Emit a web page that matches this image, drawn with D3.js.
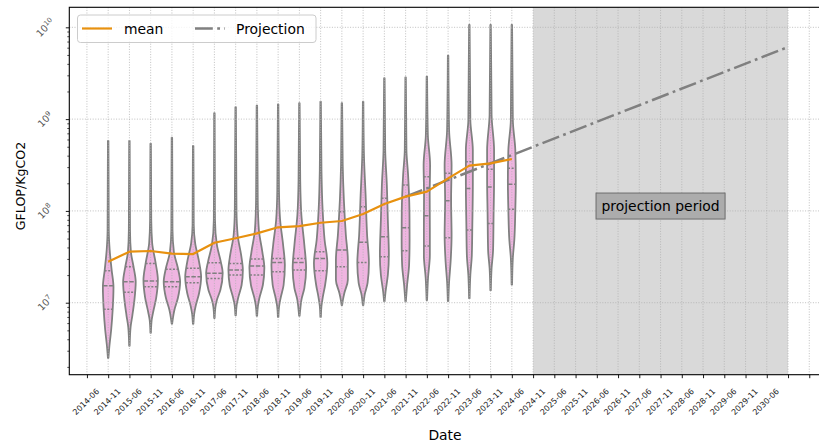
<!DOCTYPE html>
<html><head><meta charset="utf-8">
<script src="https://cdn.jsdelivr.net/npm/d3@7"></script>
<style>body{margin:0;background:#fff}svg{display:block;font-family:"DejaVu Sans",sans-serif}</style>
</head><body><svg id="chart" width="819" height="442"></svg>
<script>
// ---------- DATA ----------
// all x slots on the axis (the last two carry no label)
const periods = ["2014-06","2014-11","2015-06","2015-11","2016-06","2016-11","2017-06","2017-11","2018-06","2018-11",
  "2019-06","2019-11","2020-06","2020-11","2021-06","2021-11","2022-06","2022-11","2023-06","2023-11",
  "2024-06","2024-11","2025-06","2025-11","2026-06","2026-11","2027-06","2027-11","2028-06","2028-11",
  "2029-06","2029-11","2030-06","2030-11","2031-06"];
const tickLabels = periods.slice(0, 33);
const violinPeriods = ["2014-11","2015-06","2015-11","2016-06","2016-11","2017-06","2017-11","2018-06","2018-11","2019-06",
  "2019-11","2020-06","2020-11","2021-06","2021-11","2022-06","2022-11","2023-06","2023-11","2024-06"];
const meanValues = [2.80e7,3.60e7,3.66e7,3.42e7,3.39e7,4.50e7,5.04e7,5.70e7,6.63e7,6.84e7,
  7.43e7,7.76e7,9.25e7,1.19e8,1.43e8,1.62e8,2.26e8,3.11e8,3.30e8,3.68e8];
const violinMin = [2.5e6,3.4e6,4.7e6,5.9e6,5.9e6,6.8e6,7.3e6,7.2e6,7.0e6,7.2e6,
  7.0e6,9.4e6,9.4e6,1.03e7,1.03e7,1.07e7,1.04e7,1.12e7,1.37e7,1.58e7];
const violinMax = [5.8e8,5.8e8,5.4e8,6.3e8,5.1e8,1.16e9,1.35e9,1.40e9,1.45e9,1.49e9,
  1.55e9,1.49e9,1.55e9,2.79e9,2.85e9,2.90e9,4.91e9,1.06e10,1.06e10,1.06e10];
const violinQ1 = [8.5e6,1.30e7,1.49e7,1.49e7,1.65e7,1.84e7,2.0e7,2.0e7,2.18e7,2.27e7,
  2.23e7,2.47e7,2.75e7,3.17e7,3.68e7,4.15e7,5.1e7,6.2e7,7.3e7,1.04e8];
const violinMedian = [1.53e7,1.69e7,1.72e7,1.69e7,1.92e7,2.09e7,2.27e7,2.51e7,2.75e7,2.75e7,
  3.04e7,3.75e7,4.55e7,5.24e7,6.56e7,8.87e7,1.29e8,1.76e8,1.82e8,1.95e8];
const violinQ3 = [2.23e7,2.47e7,2.68e7,2.31e7,2.37e7,2.73e7,2.68e7,2.99e7,3.04e7,3.04e7,
  3.6e7,9.8e7,1.11e8,1.37e8,1.91e8,2.36e8,2.57e8,3.44e8,2.84e8,2.91e8];
// violin body profiles: [log10(GFLOP/KgCO2), relative density]
const violinShapes = [
  [[7.792,.07],[7.574,.18],[7.356,.42],[7.171,.64],[6.921,.54],[6.703,.36],[6.539,.16]],
  [[7.792,.07],[7.552,.18],[7.400,.48],[7.226,.76],[7.029,.60],[6.866,.36],[6.735,.14]],
  [[7.901,.07],[7.650,.18],[7.433,.60],[7.247,.87],[7.051,.66],[6.899,.30],[6.812,.12]],
  [[7.792,.07],[7.552,.24],[7.378,.72],[7.226,.99],[7.051,.72],[6.921,.30],[6.833,.12]],
  [[7.846,.07],[7.650,.24],[7.443,.72],[7.280,.96],[7.106,.72],[6.964,.30],[6.877,.12]],
  [[7.901,.07],[7.629,.30],[7.443,.78],[7.324,1.0],[7.138,.72],[7.029,.30],[6.953,.12]],
  [[8.010,.10],[7.738,.24],[7.520,.66],[7.356,.87],[7.193,.72],[7.051,.30],[6.975,.12]],
  [[8.119,.10],[7.792,.24],[7.552,.66],[7.378,.90],[7.193,.72],[7.051,.30],[6.964,.12]],
  [[8.228,.10],[7.901,.24],[7.629,.60],[7.411,.81],[7.193,.66],[7.051,.30],[6.964,.12]],
  [[8.337,.10],[7.955,.24],[7.629,.60],[7.378,.81],[7.160,.60],[7.029,.24],[6.942,.12]],
  [[8.446,.10],[8.010,.24],[7.683,.48],[7.433,.81],[7.193,.54],[7.051,.24],[6.964,.10]],
  [[8.500,.10],[8.119,.24],[7.738,.48],[7.465,.72],[7.247,.72],[7.106,.30],[7.029,.12]],
  [[8.609,.10],[8.173,.30],[7.738,.48],[7.433,.70],[7.215,.54],[7.084,.18]],
  [[8.663,.10],[8.282,.30],[7.901,.42],[7.520,.54],[7.302,.42],[7.117,.14]],
  [[8.663,.10],[8.391,.30],[8.010,.46],[7.683,.48],[7.411,.42],[7.193,.18]],
  [[8.827,.12],[8.500,.39],[8.173,.34],[7.792,.36],[7.520,.36],[7.269,.14]],
  [[8.881,.12],[8.500,.42],[8.119,.36],[7.738,.42],[7.443,.30],[7.226,.12]],
  [[8.990,.12],[8.663,.42],[8.282,.42],[7.846,.36],[7.520,.30],[7.302,.12]],
  [[9.045,.12],[8.663,.42],[8.337,.42],[7.955,.36],[7.574,.30],[7.378,.12]],
  [[8.990,.12],[8.663,.42],[8.337,.48],[8.010,.42],[7.683,.30],[7.487,.12]]
];
const projectionPeriods = ["2021-11","2030-11"];
const projectionValues = [1.43e8, 6.1e9];
const shadePeriods = ["2024-11","2030-11"];
const annotation = {period:"2027-11", value:1.13e8, text:"projection period"};
const yLimits = [1.644e6, 1.652e10];
const yTickValues = [1e7,1e8,1e9,1e10];
const legendLabels = ["mean","Projection"];
const xTitle = "Date", yTitle = "GFLOP/KgCO2";

// ---------- LAYOUT ----------
const P = {left:69.3, right:826.9, top:7.3, bottom:374.7};
const svg = d3.select("#chart");
const x = d3.scalePoint().domain(periods).range([P.left, P.right]).padding(0.83);
const y = d3.scaleLog().domain(yLimits).range([P.bottom, P.top]);
const step = x.step();
const maxHW = 0.39 * step;
const tipD = 0.03;

svg.append("defs").append("clipPath").attr("id","plot")
  .append("rect").attr("x",P.left).attr("y",P.top).attr("width",P.right-P.left).attr("height",P.bottom-P.top);
const plot = svg.append("g").attr("clip-path","url(#plot)");

// shaded projection period
plot.append("rect")
  .attr("x", x(shadePeriods[0])).attr("width", x(shadePeriods[1]) - x(shadePeriods[0]))
  .attr("y", P.top).attr("height", P.bottom - P.top).attr("fill", "#d9d9d9");

// violins
const violinG = plot.append("g");
const profiles = violinPeriods.map((p, i) =>
  [[Math.log10(violinMax[i]), tipD], ...violinShapes[i], [Math.log10(violinMin[i]), tipD]]);
function densityAt(pts, e) {
  for (let k = 0; k < pts.length - 1; k++) {
    const a = pts[k], b = pts[k+1];
    if (e <= a[0] && e >= b[0]) {
      const t = (a[0] - e) / (a[0] - b[0]);
      return a[1] + t * (b[1] - a[1]);
    }
  }
  return tipD;
}
violinPeriods.forEach((p, i) => {
  const cx = x(p);
  const area = d3.area()
    .y(d => y(Math.pow(10, d[0])))
    .x0(d => cx - d[1] * maxHW)
    .x1(d => cx + d[1] * maxHW)
    .curve(d3.curveMonotoneY);
  violinG.append("path").attr("d", area(profiles[i]))
    .attr("fill", "#efb5e1").attr("stroke", "#808080").attr("stroke-width", 1.8)
    .attr("stroke-linejoin", "round");
});

// grid (drawn above patches, like matplotlib)
const grid = plot.append("g").attr("stroke", "#b0b0b0").attr("stroke-width", 0.8).attr("stroke-dasharray", "1,1.6");
periods.forEach(p => grid.append("line").attr("x1", x(p)).attr("x2", x(p)).attr("y1", P.top).attr("y2", P.bottom));
yTickValues.forEach(v => grid.append("line").attr("x1", P.left).attr("x2", P.right).attr("y1", y(v)).attr("y2", y(v)));

// quartile lines
const qG = plot.append("g").attr("stroke", "#808080").attr("stroke-width", 1.5);
violinPeriods.forEach((p, i) => {
  const cx = x(p);
  [[violinQ1[i], "2,1.6"], [violinMedian[i], "4.5,1.6"], [violinQ3[i], "2,1.6"]].forEach(([v, dash]) => {
    const hw = Math.max(densityAt(profiles[i], Math.log10(v)) * maxHW, 1);
    qG.append("line").attr("x1", cx - hw).attr("x2", cx + hw).attr("y1", y(v)).attr("y2", y(v))
      .attr("stroke-dasharray", dash);
  });
});

// projection line
const projDash = "17.8,4.4,2.8,4.4";
plot.append("path")
  .attr("d", d3.line().x((d, i) => x(projectionPeriods[i])).y(d => y(d))(projectionValues))
  .attr("fill", "none").attr("stroke", "#808080").attr("stroke-width", 2.5).attr("stroke-dasharray", projDash);

// mean line
const meanColor = "#e8910f";
plot.append("path")
  .attr("d", d3.line().x((d, i) => x(violinPeriods[i])).y(d => y(d))(meanValues))
  .attr("fill", "none").attr("stroke", meanColor).attr("stroke-width", 2.2).attr("stroke-linejoin", "round");

// ---------- AXES ----------
const gx = svg.append("g").attr("transform", `translate(0,${P.bottom})`)
  .call(d3.axisBottom(x).tickSize(3.5).tickFormat(p => tickLabels.includes(p) ? p : ""));
gx.select(".domain").remove();
gx.attr("font-family", "DejaVu Sans, sans-serif");
gx.selectAll(".tick line").attr("stroke", "#000").attr("stroke-width", 0.9);
gx.selectAll(".tick text").attr("y", 0).attr("dy", "0.35em").attr("text-anchor", "middle")
  .attr("transform", "translate(-1.5,27) rotate(-45)")
  .attr("font-size", "8px").attr("fill", "#1a1a1a");

const gy = svg.append("g").attr("transform", `translate(${P.left},0)`)
  .call(d3.axisLeft(y).tickValues(yTickValues).tickSize(3.5).tickFormat(""));
gy.select(".domain").remove();
gy.selectAll(".tick line").attr("stroke", "#000").attr("stroke-width", 0.9);
const minorVals = y.ticks().filter(v => Math.abs(Math.log10(v) - Math.round(Math.log10(v))) > 1e-6);
const gym = svg.append("g").attr("transform", `translate(${P.left},0)`)
  .call(d3.axisLeft(y).tickValues(minorVals).tickSize(2).tickFormat(""));
gym.select(".domain").remove();
gym.selectAll(".tick line").attr("stroke", "#000").attr("stroke-width", 0.7);

yTickValues.forEach(v => {
  const t = svg.append("text")
    .attr("transform", `translate(${P.left - 24.5},${y(v)}) rotate(-45)`)
    .attr("text-anchor", "middle").attr("dy", "0.4em")
    .attr("font-size", "9.6px").attr("fill", "#555");
  t.append("tspan").text("10");
  t.append("tspan").attr("dy", "-0.5em").attr("font-size", "6.8px").text(String(Math.round(Math.log10(v))));
});

// spines
const sp = svg.append("g").attr("stroke", "#000").attr("stroke-width", 1.1).attr("fill", "none");
sp.append("rect").attr("x", P.left).attr("y", P.top).attr("width", P.right - P.left).attr("height", P.bottom - P.top);

// axis titles
svg.append("text").attr("x", 445).attr("y", 440).attr("text-anchor", "middle")
  .attr("font-size", "13.9px").attr("fill", "#000").text(xTitle);
svg.append("text").attr("transform", "translate(25,186) rotate(-90)").attr("text-anchor", "middle")
  .attr("font-size", "12.6px").attr("fill", "#000").text(yTitle);

// annotation box
const ann = svg.append("g");
const annText = ann.append("text").attr("x", x(annotation.period)).attr("y", y(annotation.value))
  .attr("dy", "0.35em").attr("text-anchor", "middle").attr("font-size", "13.9px").attr("fill", "#000")
  .text(annotation.text);
const tw = annText.node().getComputedTextLength();
ann.insert("rect", "text")
  .attr("x", x(annotation.period) - tw / 2 - 5.5).attr("width", tw + 11)
  .attr("y", y(annotation.value) - 13).attr("height", 26)
  .attr("fill", "#acacac").attr("stroke", "#6c6c6c").attr("stroke-width", 1);

// legend
const lg = svg.append("g");
lg.append("rect").attr("x", 77.5).attr("y", 15).attr("width", 238.5).attr("height", 27.5).attr("rx", 3)
  .attr("fill", "#fff").attr("fill-opacity", 0.8).attr("stroke", "#cccccc").attr("stroke-width", 1);
lg.append("line").attr("x1", 82).attr("x2", 112).attr("y1", 28.5).attr("y2", 28.5)
  .attr("stroke", meanColor).attr("stroke-width", 2.2);
lg.append("text").attr("x", 124).attr("y", 33.5).attr("font-size", "13.9px").text(legendLabels[0]);
lg.append("line").attr("x1", 195).attr("x2", 225).attr("y1", 28.5).attr("y2", 28.5)
  .attr("stroke", "#808080").attr("stroke-width", 2.5).attr("stroke-dasharray", projDash);
lg.append("text").attr("x", 236).attr("y", 33.5).attr("font-size", "13.9px").text(legendLabels[1]);
</script></body></html>
